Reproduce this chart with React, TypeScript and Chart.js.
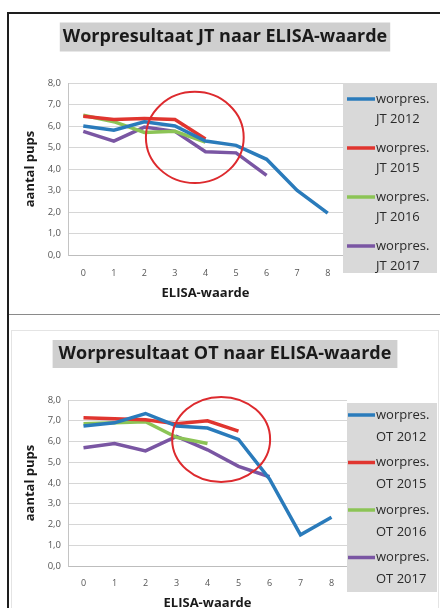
import { useEffect, useRef } from 'react';
import { Chart, registerables } from 'chart.js';

Chart.register(...registerables);

// ---------- data ----------
const elisaValues = ['0', '1', '2', '3', '4', '5', '6', '7', '8'];
const yTickLabels = ['0,0', '1,0', '2,0', '3,0', '4,0', '5,0', '6,0', '7,0', '8,0'];
const seriesYears = ['2012', '2015', '2016', '2017'];
const legendPrefix = 'worpres.';

const jtTitle = 'Worpresultaat JT naar ELISA-waarde';
const otTitle = 'Worpresultaat OT naar ELISA-waarde';
const yAxisTitle = 'aantal pups';
const xAxisTitle = 'ELISA-waarde';

const jt2012 = [6.0, 5.8, 6.2, 6.0, 5.3, 5.1, 4.45, 3.0, 1.95];
const jt2015 = [6.45, 6.3, 6.35, 6.3, 5.4];
const jt2016 = [6.5, 6.2, 5.7, 5.75, 5.25];
const jt2017 = [5.75, 5.3, 5.95, 5.75, 4.8, 4.75, 3.7];

const ot2012 = [6.75, 6.9, 7.35, 6.75, 6.65, 6.1, 4.2, 1.5, 2.35];
const ot2015 = [7.15, 7.1, 7.05, 6.85, 7.0, 6.5];
const ot2016 = [6.85, 6.9, 6.95, 6.2, 5.9];
const ot2017 = [5.7, 5.9, 5.55, 6.25, 5.6, 4.8, 4.3];

// highlight ellipses in data units (category index, value)
const jtCircle = { cx: 3.65, cy: 5.47, rx: 1.6, ry: 2.12 };
const otCircle = { cx: 4.44, cy: 6.1, rx: 1.58, ry: 2.05 };

// ---------- styles ----------
const seriesColors = ['#2a7bbb', '#e0352f', '#8cc456', '#7a56a3'];
const FONT = '"Open Sans", Lato, "DejaVu Sans", sans-serif';

type Geo = {
  width: number;
  height: number;
  padLeft: number;
  yAxisWidth: number;
  legendWidth: number;
  xAxisHeight: number;
  titlePadTop: number;
  titlePadBottom: number;
  xTickPad: number;
  xTitlePadBottom: number;
  yTitlePadTop: number;
  titleBoxPadX: number;
  titleBoxH: number;
  legendTop: number;
  legendBottom: number;
  legendFirst: number;
  legendStep: number;
  legendLineX0: number;
  legendLineX1: number;
  legendTextX: number;
  legendRight: number;
  legendLine2: number;
};

const TITLE_SIZE = 18;
const TITLE_LH = TITLE_SIZE * 1.2;

const titleBoxPlugin = {
  id: 'titleBox',
  beforeDraw(chart: any, _a: any, opts: any) {
    const { ctx } = chart;
    const tb = chart.titleBlock;
    if (!tb) return;
    ctx.save();
    ctx.font = `bold ${TITLE_SIZE}px ${FONT}`;
    const w = ctx.measureText(opts.text).width;
    const cx = (tb.left + tb.right) / 2;
    const cy = tb.top + opts.padTop + TITLE_LH / 2;
    ctx.fillStyle = '#cfcfcf';
    ctx.fillRect(cx - w / 2 - opts.padX, cy - opts.h / 2, w + 2 * opts.padX, opts.h);
    ctx.restore();
  },
};

const ellipsePlugin = {
  id: 'ellipse',
  afterDatasetsDraw(chart: any, _a: any, opts: any) {
    const { ctx } = chart;
    const xs = chart.scales.x;
    const ys = chart.scales.y;
    const cx = xs.getPixelForValue(opts.cx);
    const cy = ys.getPixelForValue(opts.cy);
    const rx = Math.abs(xs.getPixelForValue(opts.cx + opts.rx) - cx);
    const ry = Math.abs(ys.getPixelForValue(opts.cy + opts.ry) - cy);
    ctx.save();
    ctx.beginPath();
    ctx.ellipse(cx, cy, rx, ry, 0, 0, Math.PI * 2);
    ctx.strokeStyle = '#dd2a2e';
    ctx.lineWidth = 2;
    ctx.stroke();
    ctx.restore();
  },
};

const sideLegendPlugin = {
  id: 'sideLegend',
  afterDraw(chart: any, _a: any, opts: any) {
    const { ctx, chartArea } = chart;
    const g: Geo = opts.geo;
    const x0 = chartArea.right;
    ctx.save();
    ctx.fillStyle = '#d9d9d9';
    ctx.fillRect(x0, chartArea.top + g.legendTop, g.legendRight - x0, chartArea.bottom + g.legendBottom - (chartArea.top + g.legendTop));
    chart.data.datasets.forEach((ds: any, i: number) => {
      const y = chartArea.top + g.legendFirst + i * g.legendStep;
      ctx.beginPath();
      ctx.moveTo(x0 + g.legendLineX0, y);
      ctx.lineTo(x0 + g.legendLineX1, y);
      ctx.strokeStyle = ds.borderColor;
      ctx.lineWidth = 3.5;
      ctx.stroke();
      ctx.fillStyle = '#2a2a2a';
      ctx.font = `13px ${FONT}`;
      ctx.textBaseline = 'middle';
      ctx.textAlign = 'left';
      ctx.fillText(legendPrefix, x0 + g.legendTextX, y);
      ctx.fillText(`${opts.group} ${seriesYears[i]}`, x0 + g.legendTextX, y + g.legendLine2);
    });
    ctx.restore();
  },
};

function makeConfig(title: string, group: string, series: number[][], circle: any, g: Geo): any {
  return {
    type: 'line',
    data: {
      labels: elisaValues,
      datasets: series.map((vals, i) => ({
        label: `${legendPrefix} ${group} ${seriesYears[i]}`,
        data: vals,
        borderColor: seriesColors[i],
        backgroundColor: seriesColors[i],
        borderWidth: 3.5,
        pointRadius: 0,
        tension: 0,
        fill: false,
      })),
    },
    options: {
      animation: false,
      responsive: false,
      events: [],
      layout: { padding: { left: g.padLeft, right: 0, top: 0, bottom: 0 } },
      plugins: {
        legend: { display: false },
        tooltip: { enabled: false },
        title: {
          display: true,
          text: title,
          color: '#1a1a1a',
          font: { family: FONT, size: TITLE_SIZE, weight: 'bold', lineHeight: 1.2 },
          padding: { top: g.titlePadTop, bottom: g.titlePadBottom },
        },
        titleBox: { text: title, padTop: g.titlePadTop, padX: g.titleBoxPadX, h: g.titleBoxH },
        ellipse: circle,
        sideLegend: { geo: g, group },
      },
      scales: {
        x: {
          type: 'category',
          offset: true,
          grid: { display: false, drawTicks: false },
          border: { display: true, color: '#bdbdbd', width: 1 },
          ticks: { color: '#555', font: { family: FONT, size: 9 }, padding: g.xTickPad, maxRotation: 0 },
          title: {
            display: true,
            text: xAxisTitle,
            color: '#1a1a1a',
            font: { family: FONT, size: 13, weight: 'bold', lineHeight: 1.2 },
            padding: { top: 0, bottom: g.xTitlePadBottom },
          },
          afterFit: (s: any) => {
            s.height = g.xAxisHeight;
          },
        },
        y: {
          type: 'linear',
          min: 0,
          max: 8,
          grid: { color: '#d6d6d6', drawTicks: false, lineWidth: 1 },
          border: { display: true, color: '#c4c4c4', width: 1 },
          ticks: {
            stepSize: 1,
            color: '#555',
            font: { family: FONT, size: 9.5 },
            padding: 7,
            callback: (v: number) => yTickLabels[v],
          },
          title: {
            display: true,
            text: yAxisTitle,
            color: '#1a1a1a',
            font: { family: FONT, size: 13, weight: 'bold', lineHeight: 1.2 },
            padding: { top: g.yTitlePadTop, bottom: 0 },
          },
          afterFit: (s: any) => {
            s.width = g.yAxisWidth;
          },
        },
        legendSpace: {
          type: 'linear',
          position: 'right',
          display: true,
          grid: { display: false, drawTicks: false },
          border: { display: false },
          ticks: { display: false },
          afterFit: (s: any) => {
            s.width = g.legendWidth;
          },
        },
      },
    },
    plugins: [titleBoxPlugin, ellipsePlugin, sideLegendPlugin],
  };
}

const topGeo: Geo = {
  width: 440,
  height: 314,
  padLeft: 10,
  yAxisWidth: 58,
  legendWidth: 97,
  xAxisHeight: 59,
  titlePadTop: 37 - TITLE_LH / 2,
  titlePadBottom: 83 - (37 - TITLE_LH / 2) - TITLE_LH,
  xTickPad: 12.6,
  xTitlePadBottom: 13,
  yTitlePadTop: 12.2,
  titleBoxPadX: 3,
  titleBoxH: 29,
  legendTop: 0,
  legendBottom: 18,
  legendFirst: 16,
  legendStep: 49,
  legendLineX0: 4,
  legendLineX1: 32,
  legendTextX: 33,
  legendRight: 437,
  legendLine2: 20,
};

const botGeo: Geo = {
  width: 440,
  height: 300,
  padLeft: 10,
  yAxisWidth: 58,
  legendWidth: 93,
  xAxisHeight: 48,
  titlePadTop: 40 - TITLE_LH / 2,
  titlePadBottom: 86 - (40 - TITLE_LH / 2) - TITLE_LH,
  xTickPad: 11.6,
  xTitlePadBottom: 3,
  yTitlePadTop: 12.2,
  titleBoxPadX: 6,
  titleBoxH: 28,
  legendTop: 3,
  legendBottom: 26,
  legendFirst: 15,
  legendStep: 47.5,
  legendLineX0: 1,
  legendLineX1: 28,
  legendTextX: 29,
  legendRight: 437,
  legendLine2: 22,
};

function ChartCanvas({ config, geo, top }: { config: any; geo: Geo; top: number }) {
  const ref = useRef<HTMLCanvasElement | null>(null);
  useEffect(() => {
    if (!ref.current) return;
    const chart = new Chart(ref.current, config);
    return () => chart.destroy();
  }, [config]);
  return (
    <canvas
      ref={ref}
      width={geo.width}
      height={geo.height}
      style={{ position: 'absolute', left: 0, top, width: geo.width, height: geo.height }}
    />
  );
}

const topConfig = makeConfig(jtTitle, 'JT', [jt2012, jt2015, jt2016, jt2017], jtCircle, topGeo);
const botConfig = makeConfig(otTitle, 'OT', [ot2012, ot2015, ot2016, ot2017], otCircle, botGeo);

export default function App() {
  return (
    <div
      style={{
        position: 'absolute',
        left: 0,
        top: 0,
        width: 440,
        height: 608,
        overflow: 'hidden',
        background: '#ffffff',
      }}
    >
      {/* top frame */}
      <div
        style={{
          position: 'absolute',
          left: 7,
          top: 12,
          width: 460,
          height: 700,
          borderLeft: '2px solid #1e1e1e',
          borderTop: '2px solid #1e1e1e',
        }}
      />
      {/* separator */}
      <div style={{ position: 'absolute', left: 9, top: 314, width: 440, height: 1, background: '#8a8a8a' }} />
      {/* faint inner border of lower chart */}
      <div
        style={{
          position: 'absolute',
          left: 11,
          top: 330,
          width: 426,
          height: 300,
          border: '1px solid #e4e4e4',
        }}
      />
      <ChartCanvas config={topConfig} geo={topGeo} top={0} />
      <ChartCanvas config={botConfig} geo={botGeo} top={314} />
    </div>
  );
}
